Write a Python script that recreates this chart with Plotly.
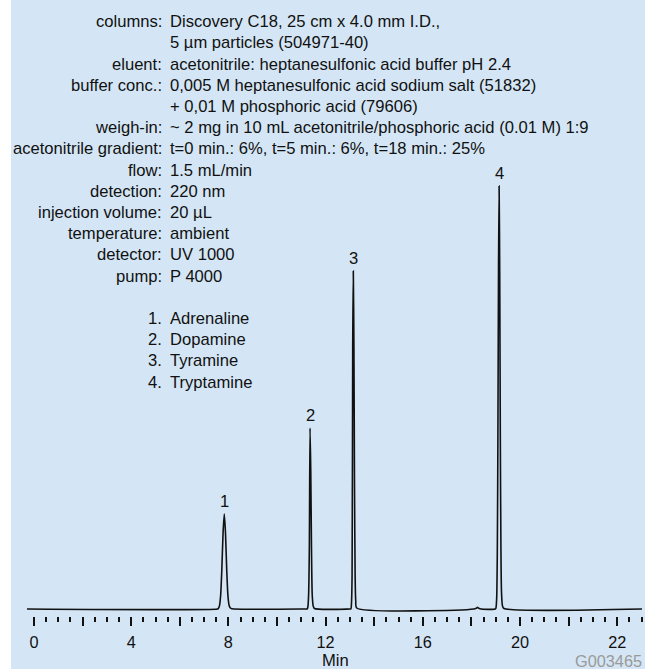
import plotly.graph_objects as go

# ---------------- data ----------------
# chromatogram trace (time in min, detector signal, arbitrary units)
time = [-0.3, 7.55, 7.58, 7.63, 7.68, 7.73, 7.78, 7.83, 7.88, 7.93, 7.98, 8.03, 8.08, 8.14,
        11.2, 11.24, 11.27, 11.30, 11.33, 11.36, 11.39, 11.42, 11.45, 11.49, 11.54,
        13.0, 13.04, 13.065, 13.09, 13.115, 13.14, 13.165, 13.19, 13.215, 13.24, 13.28,
        18.1, 18.2, 18.25, 18.3, 18.4,
        18.98, 19.01, 19.04, 19.065, 19.09, 19.115, 19.14, 19.165, 19.19, 19.215, 19.24, 19.28, 19.34,
        25.02]
signal = [0, 0, 0.4, 3, 13.5, 40, 76, 95, 76, 40, 13.5, 3.5, 1, 0.3,
          0, 0, 2, 14, 59, 181, 137, 59, 14, 3, 0.5,
          0, 0, 6, 34, 262, 338, 262, 122, 34, 8, 1,
          0, 0.8, 1.6, 0.8, 0,
          0, 1, 11, 54, 170, 337, 423, 337, 170, 60, 16, 3, 0.5,
          0]

peak_numbers = ["1", "2", "3", "4"]
peak_times = [7.83, 11.36, 13.14, 19.14]
peak_heights = [95, 181, 338, 423]

compounds = ["Adrenaline", "Dopamine", "Tyramine", "Tryptamine"]

cond_labels = ["columns:", "", "eluent:", "buffer conc.:", "", "weigh-in:",
               "acetonitrile gradient:", "flow:", "detection:", "injection volume:",
               "temperature:", "detector:", "pump:"]
cond_values = ["Discovery C18, 25 cm x 4.0 mm I.D.,",
               "5 µm particles (504971-40)",
               "acetonitrile: heptanesulfonic acid buffer pH 2.4",
               "0,005 M heptanesulfonic acid sodium salt (51832)",
               "+ 0,01 M phosphoric acid (79606)",
               "~ 2 mg in 10 mL acetonitrile/phosphoric acid (0.01 M) 1:9",
               "t=0 min.: 6%, t=5 min.: 6%, t=18 min.: 25%",
               "1.5 mL/min", "220 nm", "20 µL", "ambient", "UV 1000", "P 4000"]

tick_vals = [0, 2, 4, 6, 8, 10, 12, 14, 16, 18, 20, 22, 24]
tick_text = ["0", "", "4", "", "8", "", "12", "", "16", "", "20", "", "22"]
x_title = "Min"
code_label = "G003465"

# ---------------- layout helpers ----------------
W, H = 645, 669
ML, MR, MT, MB = 27, 3, 0, 53
PW, PH = W - ML - MR, H - MT - MB
FONT = "Liberation Sans, Arial, Helvetica, sans-serif"
BG = "#D4E6F5"
FS = 16.6


def px(xp):
    return (xp - ML) / PW


def py(yp):
    return (H - MB - yp) / PH


fig = go.Figure()
fig.add_trace(go.Scatter(x=time, y=signal, mode="lines",
                         line=dict(color="#111111", width=1.6, shape="spline", smoothing=0.7),
                         hoverinfo="skip", showlegend=False))

ann = []
rows = cond_labels + [""] + [f"{i + 1}." for i in range(len(compounds))]
vals = cond_values + [""] + compounds
y0, step = 21.7, 21.2
for i, (lab, val) in enumerate(zip(rows, vals)):
    yy = py(y0 + i * step)
    if lab:
        ann.append(dict(x=px(164), y=yy, xref="paper", yref="paper", text=lab,
                        xanchor="right", yanchor="middle", showarrow=False,
                        font=dict(size=FS, color="#111", family=FONT)))
    if val:
        ann.append(dict(x=px(168), y=yy, xref="paper", yref="paper", text=val,
                        xanchor="left", yanchor="middle", showarrow=False,
                        font=dict(size=FS, color="#111", family=FONT)))

for n, t, h in zip(peak_numbers, peak_times, peak_heights):
    ann.append(dict(x=t, y=h, xref="x", yref="y", text=n, showarrow=False,
                    xanchor="center", yanchor="middle", yshift=13,
                    font=dict(size=FS, color="#111", family=FONT)))

ann.append(dict(x=px(335), y=py(660), xref="paper", yref="paper", text=x_title,
                showarrow=False, xanchor="center", yanchor="middle",
                font=dict(size=FS, color="#111", family=FONT)))
ann.append(dict(x=px(644), y=py(661), xref="paper", yref="paper", text=code_label,
                showarrow=False, xanchor="right", yanchor="middle",
                font=dict(size=16.3, color="#9a9a9a", family=FONT)))

minor_vals = [v / 2 for v in range(0, 51) if v % 4 != 0]

fig.update_layout(
    width=W, height=H,
    margin=dict(l=ML, r=MR, t=MT, b=MB, pad=0),
    paper_bgcolor="white", plot_bgcolor=BG,
    shapes=[dict(type="rect", xref="paper", yref="paper",
                 x0=px(11), x1=px(W + 5), y0=py(H + 5), y1=py(-5),
                 fillcolor=BG, line=dict(width=0), layer="below")],
    annotations=ann,
    xaxis=dict(range=[-0.288, 25.02], showgrid=False, zeroline=False, showline=False,
               tickmode="array", tickvals=tick_vals, ticktext=tick_text,
               ticks="outside", ticklen=9, tickwidth=1.6, tickcolor="#111",
               ticklabelstandoff=2,
               tickfont=dict(size=16.3, color="#111", family=FONT),
               minor=dict(tickmode="array", tickvals=minor_vals, ticks="outside",
                          ticklen=5, tickwidth=1.6, tickcolor="#111", showgrid=False)),
    yaxis=dict(range=[-7, 609], visible=False, showgrid=False, zeroline=False),
    font=dict(family=FONT, size=FS, color="#111"),
)

fig.write_html("out.html")
